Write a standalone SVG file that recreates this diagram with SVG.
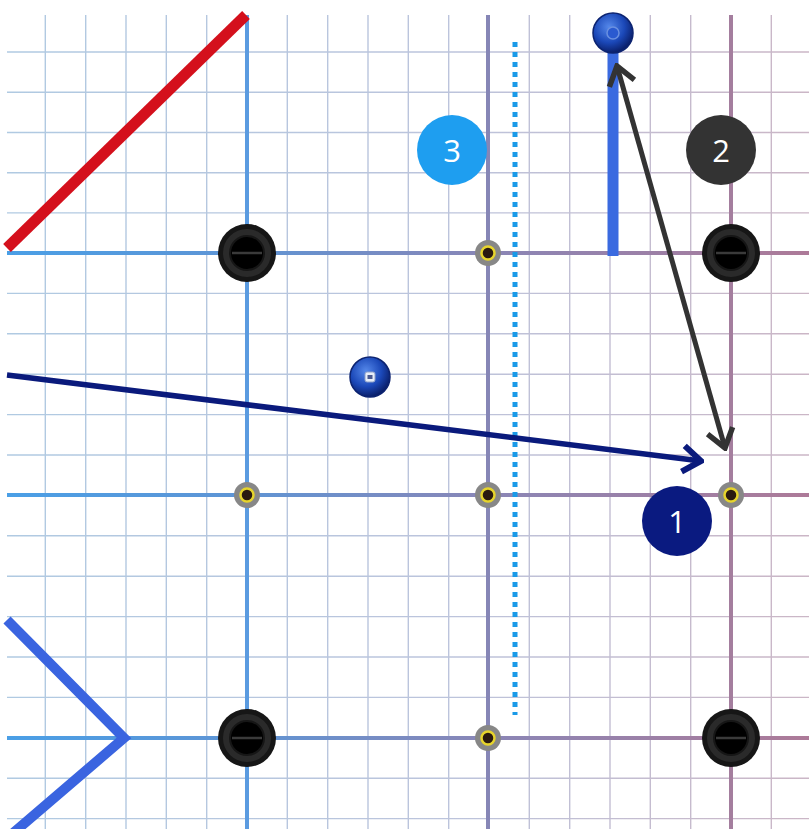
<svg xmlns="http://www.w3.org/2000/svg" width="809" height="829" viewBox="0 0 809 829">
<style>
.minor{stroke:url(#gMinor);stroke-width:1.4;fill:none}
.majorH{stroke:url(#gMajor);stroke-width:4;fill:none}
.num{font-family:"Open Sans","Liberation Sans",sans-serif;font-size:31px;fill:#fff;text-anchor:middle;dominant-baseline:central}
</style>
<defs>
<linearGradient id="gMinor" gradientUnits="userSpaceOnUse" x1="7" y1="0" x2="809" y2="0">
<stop offset="0" stop-color="#b0cae2"/><stop offset="0.55" stop-color="#bcc4dc"/><stop offset="1" stop-color="#cbb6c6"/>
</linearGradient>
<linearGradient id="gMajor" gradientUnits="userSpaceOnUse" x1="7" y1="0" x2="809" y2="0">
<stop offset="0" stop-color="#4a9fe6"/><stop offset="0.3" stop-color="#5f94d4"/><stop offset="0.6" stop-color="#8a86b6"/><stop offset="1" stop-color="#ad7a98"/>
</linearGradient>
<radialGradient id="gSphere" cx="0.4" cy="0.35" r="0.65">
<stop offset="0" stop-color="#5588ea"/><stop offset="0.6" stop-color="#1b48b8"/><stop offset="1" stop-color="#0a1f6a"/>
</radialGradient>
<marker id="arrNavy" markerUnits="userSpaceOnUse" viewBox="0 0 24 32" markerWidth="24" markerHeight="32" refX="21" refY="16" orient="auto">
<path d="M3,3 L21,16 L3,29" fill="none" stroke="#0a1a7c" stroke-width="6"/>
</marker>
<marker id="arrDark" markerUnits="userSpaceOnUse" viewBox="0 0 24 32" markerWidth="24" markerHeight="32" refX="21" refY="16" orient="auto-start-reverse">
<path d="M3,3 L21,16 L3,29" fill="none" stroke="#333" stroke-width="5.5"/>
</marker>
</defs>
<rect width="809" height="829" fill="#fff"/>
<g id="grid">
<g class="minor">
<path d="M45.3,15V829M85.7,15V829M126,15V829M166.3,15V829M206.7,15V829M287.3,15V829M327.7,15V829M368,15V829M408.3,15V829M448.7,15V829M529.3,15V829M569.7,15V829M610,15V829M650.3,15V829M690.7,15V829M771.3,15V829"/>
<path d="M7,52H809M7,92.2H809M7,132.5H809M7,172.7H809M7,212.9H809M7,293.4H809M7,333.8H809M7,374.2H809M7,414.6H809M7,455H809M7,535.8H809M7,576.2H809M7,616.6H809M7,657H809M7,697.4H809M7,778.2H809M7,818.6H809"/>
</g>
<path class="majorH" d="M7,253H809M7,495H809M7,738H809"/>
<line x1="247" y1="15" x2="247" y2="829" stroke="#5b9be0" stroke-width="4"/>
<line x1="488" y1="15" x2="488" y2="829" stroke="#8686b6" stroke-width="4"/>
<line x1="731" y1="15" x2="731" y2="829" stroke="#a47e9e" stroke-width="4"/>
</g>
<g id="connectors">
<line id="red-line" x1="7" y1="248" x2="246" y2="15" stroke="#d4101c" stroke-width="11"/>
<polyline id="chevron" points="7,620 124,738 12,834" fill="none" stroke="#3a64e0" stroke-width="10"/>
<line id="dotted" x1="515" y1="42" x2="515" y2="715" stroke="#1a9ae8" stroke-width="5" stroke-dasharray="5 5"/>
<line id="blue-bar" x1="613" y1="45" x2="613" y2="256" stroke="#3a6ae0" stroke-width="11"/>
<line id="navy-arrow" x1="7" y1="375" x2="701" y2="461" stroke="#0a1a7c" stroke-width="5.5" marker-end="url(#arrNavy)"/>
<line id="dark-arrow" x1="617" y1="66" x2="725" y2="448" stroke="#333" stroke-width="5" marker-start="url(#arrDark)" marker-end="url(#arrDark)"/>
</g>
<g id="node-black-1" transform="translate(247,253)"><circle r="29" fill="#161616"/><circle r="21" fill="none" stroke="#2a2a2a" stroke-width="6"/><circle r="16" fill="#000"/><line x1="-15" x2="15" stroke="#3a3a3a" stroke-width="2.5"/></g>
<g id="node-black-2" transform="translate(731,253)"><circle r="29" fill="#161616"/><circle r="21" fill="none" stroke="#2a2a2a" stroke-width="6"/><circle r="16" fill="#000"/><line x1="-15" x2="15" stroke="#3a3a3a" stroke-width="2.5"/></g>
<g id="node-black-3" transform="translate(247,738)"><circle r="29" fill="#161616"/><circle r="21" fill="none" stroke="#2a2a2a" stroke-width="6"/><circle r="16" fill="#000"/><line x1="-15" x2="15" stroke="#3a3a3a" stroke-width="2.5"/></g>
<g id="node-black-4" transform="translate(731,738)"><circle r="29" fill="#161616"/><circle r="21" fill="none" stroke="#2a2a2a" stroke-width="6"/><circle r="16" fill="#000"/><line x1="-15" x2="15" stroke="#3a3a3a" stroke-width="2.5"/></g>
<g id="node-pin-1" transform="translate(488,253)"><circle r="13" fill="#878787"/><circle r="6.5" fill="#2a1a10" stroke="#e6d42c" stroke-width="2.5"/></g>
<g id="node-pin-2" transform="translate(247,495)"><circle r="13" fill="#878787"/><circle r="6.5" fill="#2a1a10" stroke="#e6d42c" stroke-width="2.5"/></g>
<g id="node-pin-3" transform="translate(488,495)"><circle r="13" fill="#878787"/><circle r="6.5" fill="#2a1a10" stroke="#e6d42c" stroke-width="2.5"/></g>
<g id="node-pin-4" transform="translate(731,495)"><circle r="13" fill="#878787"/><circle r="6.5" fill="#2a1a10" stroke="#e6d42c" stroke-width="2.5"/></g>
<g id="node-pin-5" transform="translate(488,738)"><circle r="13" fill="#878787"/><circle r="6.5" fill="#2a1a10" stroke="#e6d42c" stroke-width="2.5"/></g>
<g id="sphere-top" transform="translate(613,33)"><circle r="20" fill="url(#gSphere)" stroke="#0c2370" stroke-width="1.5"/><circle r="6" fill="#2a5ad0" stroke="#6a90e0" stroke-width="1.5"/></g>
<g id="sphere-mid" transform="translate(370,377)"><circle r="20" fill="url(#gSphere)" stroke="#0c2370" stroke-width="1.5"/><rect x="-5" y="-5" width="10" height="10" rx="2" fill="#e8eef8" stroke="#8da0c8" stroke-width="1"/><rect x="-2.5" y="-2" width="5" height="4" fill="#4a5a90"/></g>
<g id="badge-3" transform="translate(452,150)"><circle r="35" fill="#1e9ef0"/><text class="num">3</text></g>
<g id="badge-2" transform="translate(721,150)"><circle r="35" fill="#333333"/><text class="num">2</text></g>
<g id="badge-1" transform="translate(677,521)"><circle r="35" fill="#0a1a80"/><text class="num">1</text></g>
</svg>
